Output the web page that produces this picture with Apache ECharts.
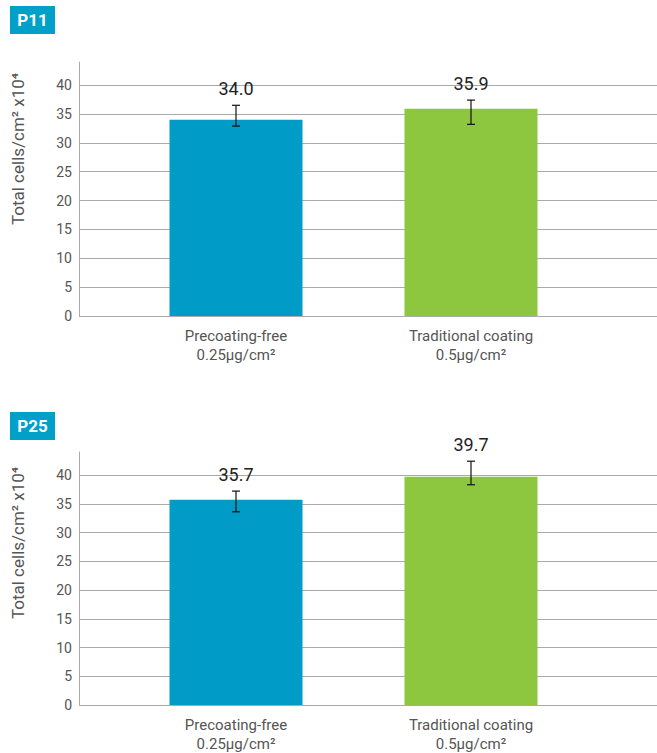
<!DOCTYPE html>
<html>
<head>
<meta charset="utf-8">
<script src="https://cdn.jsdelivr.net/npm/echarts@6/dist/echarts.min.js"></script>
<style>
  html, body { margin: 0; padding: 0; background: #fff; }
  #p11_chart { width: 657px; height: 376px; }
  #p25_chart { width: 657px; height: 377px; }
</style>
</head>
<body>
<div id="p11_chart"></div>
<div id="p25_chart"></div>
<script>
// categories (x axis)
var categories = ['Precoating-free\n0.25μg/cm²', 'Traditional coating\n0.5μg/cm²'];
// y axis
var yMin = 0, yMax = 44, yStep = 5;
var yAxisName = 'Total cells/cm² x10⁴';

// P11
var p11Values = [34.0, 35.9];
var p11ErrLow = [32.9, 33.2];
var p11ErrHigh = [36.5, 37.4];
// P25
var p25Values = [35.7, 39.7];
var p25ErrLow = [33.6, 38.3];
var p25ErrHigh = [37.2, 42.4];

var barColors = ['#009bc6', '#8dc63f'];
var FONT = 'Roboto, "DejaVu Sans", sans-serif';

function buildOption(title, values, errLow, errHigh, gridTop, gridBottom, badgeTop, nameY) {
    var errData = values.map(function (v, i) {
        return [i, errLow[i], errHigh[i], v];
    });
    return {
        animation: false,
        graphic: [
            // badge
            {type: 'rect', left: 10, top: badgeTop, shape: {width: 45, height: 28}, style: {fill: '#00a0c9'}},
            {type: 'text', x: 32.5, y: badgeTop + 14,
                style: {text: title, fill: '#fff', font: 'bold 17px ' + FONT,
                    align: 'center', verticalAlign: 'middle', textAlign: 'center', textVerticalAlign: 'middle'}},
            // y axis name
            {type: 'text', x: 18, y: nameY, rotation: Math.PI / 2,
                style: {text: yAxisName, fill: '#555', font: '17px ' + FONT,
                    align: 'center', verticalAlign: 'middle', textAlign: 'center', textVerticalAlign: 'middle'}}
        ],
        grid: [
            // grid for y axis + split lines
            {left: 79, right: 0, top: gridTop, bottom: gridBottom},
            // grid for the bars
            {left: 118.5, width: 470, top: gridTop, bottom: gridBottom}
        ],
        xAxis: [
            {gridIndex: 0, type: 'value', show: false, min: 0, max: 1},
            {
                gridIndex: 1,
                type: 'category',
                data: categories,
                axisLine: {show: false},
                axisTick: {show: false},
                axisLabel: {
                    margin: 10,
                    color: '#555',
                    fontFamily: FONT,
                    fontSize: 15,
                    lineHeight: 19
                }
            }
        ],
        yAxis: [
            {
                gridIndex: 0,
                type: 'value',
                min: yMin,
                max: yMax,
                interval: yStep,
                axisLine: {show: true, lineStyle: {color: '#aaa', width: 1}},
                axisTick: {show: false},
                axisLabel: {
                    margin: 7,
                    color: '#555',
                    fontFamily: FONT,
                    fontSize: 14,
                    showMaxLabel: false,
                    formatter: function (v) { return v % yStep === 0 ? String(v) : ''; }
                },
                splitLine: {show: true, showMaxLine: false, lineStyle: {color: '#aaa', width: 1}}
            },
            {gridIndex: 1, type: 'value', min: yMin, max: yMax, show: false}
        ],
        series: [
            {
                type: 'bar',
                xAxisIndex: 1,
                yAxisIndex: 1,
                barWidth: 133,
                data: values.map(function (v, i) {
                    return {value: v, itemStyle: {color: barColors[i]}};
                })
            },
            {
                // error bars + value labels
                type: 'custom',
                xAxisIndex: 1,
                yAxisIndex: 1,
                clip: false,
                z: 5,
                data: errData,
                renderItem: function (params, api) {
                    var lo = api.coord([api.value(0), api.value(1)]);
                    var hi = api.coord([api.value(0), api.value(2)]);
                    var cap = 4;
                    var ls = {stroke: '#111', lineWidth: 1.2};
                    return {
                        type: 'group',
                        children: [
                            {type: 'line', shape: {x1: hi[0], y1: hi[1], x2: lo[0], y2: lo[1]}, style: ls},
                            {type: 'line', shape: {x1: hi[0] - cap, y1: hi[1], x2: hi[0] + cap, y2: hi[1]}, style: ls},
                            {type: 'line', shape: {x1: lo[0] - cap, y1: lo[1], x2: lo[0] + cap, y2: lo[1]}, style: ls},
                            {type: 'text', x: hi[0], y: hi[1] - 8,
                                style: {text: api.value(3).toFixed(1), fill: '#222', font: '18px ' + FONT,
                                    align: 'center', verticalAlign: 'bottom', textAlign: 'center', textVerticalAlign: 'bottom'}}
                        ]
                    };
                }
            }
        ]
    };
}

var p11Chart = echarts.init(document.getElementById('p11_chart'), null, {renderer: 'svg'});
p11Chart.setOption(buildOption('P11', p11Values, p11ErrLow, p11ErrHigh, 62, 60, 6, 149));

var p25Chart = echarts.init(document.getElementById('p25_chart'), null, {renderer: 'svg'});
p25Chart.setOption(buildOption('P25', p25Values, p25ErrLow, p25ErrHigh, 76, 48, 36, 167));
</script>
</body>
</html>
